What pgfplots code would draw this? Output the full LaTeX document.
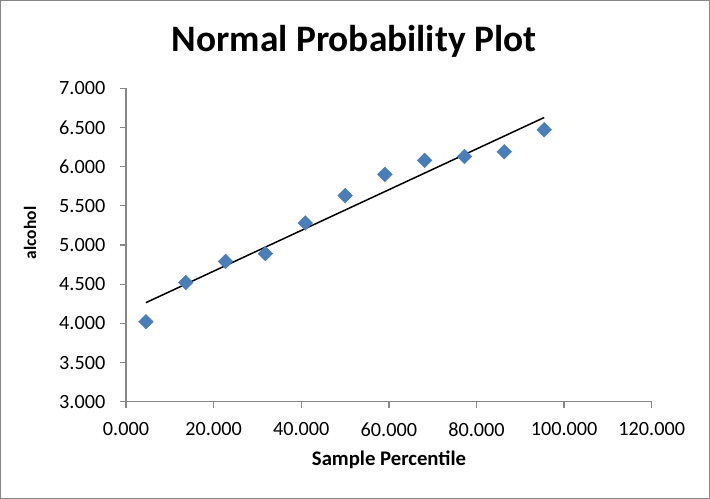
\documentclass[border=0pt]{standalone}
\usepackage{pgfplots}
\pgfplotsset{compat=1.18}
\usepackage{fontspec}
\setmainfont{Carlito}
\definecolor{axgray}{RGB}{134,134,134}
\definecolor{ptblue}{RGB}{74,126,187}
\begin{document}
\begin{tikzpicture}[x=1bp,y=1bp]
\useasboundingbox (0,0) rectangle (710,499);
\draw[axgray,line width=1bp] (0.5,0.5) rectangle (709.5,498.5);
\node[anchor=base,font=\fontsize{37.5}{42}\selectfont\bfseries] at (354,447) {Normal Probability Plot};
\node[anchor=base,font=\fontsize{20.8}{24}\selectfont\bfseries] at (389,33.3) {Sample Percentile};
\node[rotate=90,font=\fontsize{17.5}{20}\selectfont\bfseries] at (30,266) {alcohol};
\begin{axis}[
  at={(126bp,97.3bp)}, anchor=south west,
  width=525.7bp, height=313.4bp, scale only axis,
  xmin=0, xmax=120, ymin=3, ymax=7,
  axis x line*=bottom, axis y line*=left,
  axis line style={axgray, line width=1.3bp},
  xtick={0,20,40,60,80,100,120},
  xticklabels={0.000,20.000,40.000,60.000,80.000,100.000,120.000},
  ytick={3,3.5,4,4.5,5,5.5,6,6.5,7},
  yticklabels={3.000,3.500,4.000,4.500,5.000,5.500,6.000,6.500,7.000},
  tick align=outside, major tick length=6.5bp,
  tick style={axgray, line width=1.3bp},
  ticklabel style={font=\fontsize{20.3}{24}\selectfont},
  yticklabel style={anchor=east, inner sep=0pt, xshift=-14bp},
  xticklabel style={anchor=north, inner sep=0pt, yshift=-14bp},
  clip=false,
]
\addplot[only marks, mark=square*, mark size=5.2bp, mark options={rotate=45, fill=ptblue, draw=ptblue}]
coordinates {
(4.545,4.02) (13.636,4.52) (22.727,4.79) (31.818,4.89) (40.909,5.28) (50.000,5.63)
(59.091,5.90) (68.182,6.08) (77.273,6.13) (86.364,6.19) (95.455,6.47)
};
\addplot[black, line width=1.5bp] coordinates {(4.545,4.264) (95.455,6.627)};
\end{axis}
\end{tikzpicture}
\end{document}
